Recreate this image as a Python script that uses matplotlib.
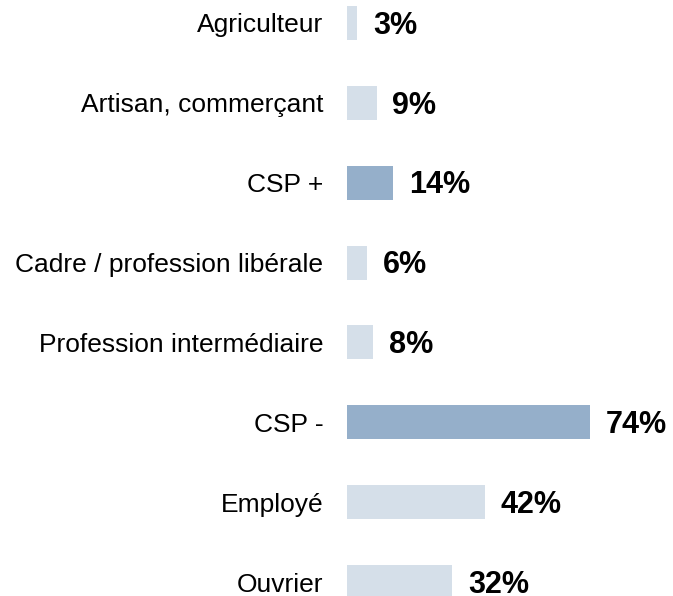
import matplotlib
matplotlib.use("Agg")
import matplotlib.pyplot as plt

# categories and percentages, top to bottom
categories = ["Agriculteur", "Artisan, commerçant", "CSP +", "Cadre / profession libérale",
              "Profession intermédiaire", "CSP -", "Employé", "Ouvrier"]
values = [3, 9, 14, 6, 8, 74, 42, 32]
is_group = [False, False, True, False, False, True, False, False]  # CSP +/- totals are darker

light = "#D5DFE9"
dark = "#95AFCA"

plt.rcParams['font.family'] = ['Liberation Sans', 'DejaVu Sans']

fig = plt.figure(figsize=(6.73, 5.96), dpi=100)
ax = fig.add_axes([347 / 673, 0, 326 / 673, 1])

y = list(range(len(categories)))
colors = [dark if g else light for g in is_group]
ax.barh(y, values, height=0.425, color=colors, edgecolor='none')

# value labels, bold, a bit right of the bar end
for yi, v in zip(y, values):
    ax.annotate(f"{v}%", xy=(v, yi), xytext=(11.5, -2), textcoords='offset points',
                ha='left', va='center', fontsize=22, fontweight='bold', color='black')

ax.set_yticks(y)
ax.set_yticklabels(categories, fontsize=19)
ax.tick_params(axis='y', length=0, pad=17)
ax.set_xticks([])
ax.set_xlim(0, 99.4)
ax.set_ylim(7.175, -0.288)
for s in ax.spines.values():
    s.set_visible(False)

fig.savefig("out.png", dpi=100)
